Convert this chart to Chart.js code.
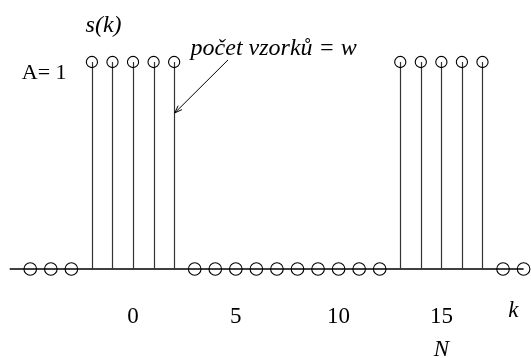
<!DOCTYPE html>
<html><head><meta charset="utf-8">
<script src="https://cdn.jsdelivr.net/npm/chart.js@4"></script>
<style>html,body{margin:0;padding:0;background:#fff;}canvas{display:block;}
#pre{position:absolute;left:0;top:0;color:rgba(0,0,0,0);font-family:"Liberation Serif";font-size:20px;pointer-events:none;}
</style>
</head><body>
<div id="pre">0 5 A= <i>počet s(k)</i></div>
<canvas id="c" width="531" height="358"></canvas>
<script>
const samplesK = [-5,-4,-3,-2,-1,0,1,2,3,4,5,6,7,8,9,10,11,12,13,14,15,16,17,18,19];
const samplesS = [0,0,0,1,1,1,1,1,0,0,0,0,0,0,0,0,0,0,1,1,1,1,1,0,0];
const tickLabels = [0,5,10,15];
const kRange = [-6,19];

const FAM = '"Liberation Serif", "Times New Roman", serif';

const stemPlugin = {
  id:'stems',
  beforeDatasetsDraw(chart){
    const {ctx, scales:{x,y}} = chart;
    ctx.save();
    ctx.strokeStyle='#000'; ctx.lineWidth=1.6;
    ctx.beginPath();
    ctx.moveTo(x.getPixelForValue(kRange[0]), y.getPixelForValue(0));
    ctx.lineTo(x.getPixelForValue(kRange[1]), y.getPixelForValue(0));
    ctx.stroke();
    ctx.strokeStyle='#333'; ctx.lineWidth=1.2;
    samplesK.forEach((k,i)=>{
      if(samplesS[i]!==0){
        const px=Math.round(x.getPixelForValue(k))+0.5;
        ctx.beginPath();
        ctx.moveTo(px, y.getPixelForValue(0));
        ctx.lineTo(px, y.getPixelForValue(samplesS[i]));
        ctx.stroke();
      }
    });
    ctx.restore();
  },
  afterDatasetsDraw(chart){
    const {ctx, scales:{x,y}} = chart;
    const X=v=>x.getPixelForValue(v), Y=v=>y.getPixelForValue(v);
    ctx.save();
    ctx.fillStyle='#000';
    ctx.textBaseline='alphabetic';
    ctx.font='23px ' + FAM; ctx.textAlign='center';
    tickLabels.forEach(t=>ctx.fillText(String(t), X(t), Y(-0.261)));
    ctx.font='italic 23px ' + FAM; ctx.textAlign='left';
    ctx.fillText('k', X(18.25), Y(-0.232));
    ctx.textAlign='center';
    ctx.fillText('N', X(15), Y(-0.420));
    ctx.textAlign='left';
    ctx.font='italic 24px ' + FAM;
    ctx.fillText('s(k)', X(-2.31), Y(1.145));
    ctx.font='22px ' + FAM;
    ctx.fillText('A= 1', X(-5.41), Y(0.918));
    ctx.font='italic 24px ' + FAM;
    ctx.fillText('počet vzorků = w', X(2.80), Y(1.034));
    const x1=X(4.62), y1=Y(1.010), x2=X(2.03), y2=Y(0.754);
    ctx.strokeStyle='#000'; ctx.lineWidth=1;
    ctx.beginPath(); ctx.moveTo(x1,y1); ctx.lineTo(x2,y2); ctx.stroke();
    const a=Math.atan2(y2-y1,x2-x1), L=8, w=0.35;
    ctx.beginPath();
    ctx.moveTo(x2,y2);
    ctx.lineTo(x2-L*Math.cos(a-w), y2-L*Math.sin(a-w));
    ctx.moveTo(x2,y2);
    ctx.lineTo(x2-L*Math.cos(a+w), y2-L*Math.sin(a+w));
    ctx.stroke();
    ctx.restore();
  }
};

const chart = new Chart(document.getElementById('c'), {
  type:'scatter',
  data:{datasets:[{
    data: samplesK.map((k,i)=>({x:k,y:samplesS[i]})),
    pointRadius: c => (samplesS[c.dataIndex] ? 5.6 : 6.3),
    pointBackgroundColor:'rgba(0,0,0,0)',
    pointBorderColor:'#000',
    pointBorderWidth:1.1,
    showLine:false,
    clip:false
  }]},
  options:{
    responsive:false, animation:false, devicePixelRatio:1,
    layout:{padding:{left:9.7,right:0.3,top:62,bottom:89}},
    plugins:{legend:{display:false},tooltip:{enabled:false}},
    scales:{
      x:{type:'linear',min:kRange[0],max:kRange[1],display:false},
      y:{type:'linear',min:0,max:1,display:false}
    }
  },
  plugins:[stemPlugin]
});
function redraw(){ chart.update('none'); }
document.fonts.ready.then(redraw);
window.addEventListener('load', ()=>{ redraw(); setTimeout(redraw, 50); });
</script>
</body></html>
